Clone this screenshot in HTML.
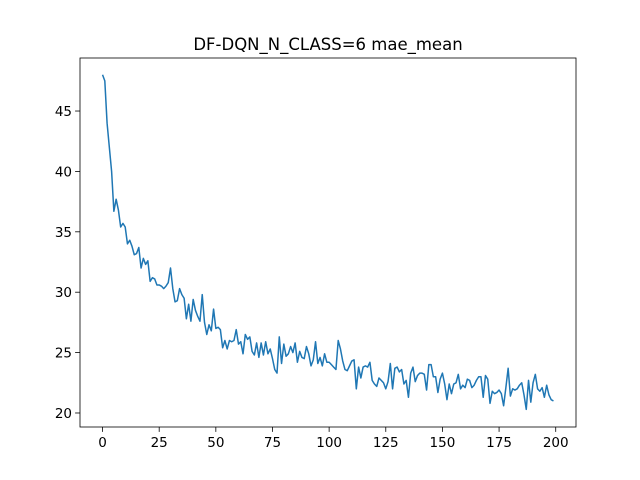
<!DOCTYPE html>
<html><head><meta charset="utf-8"><style>
body{margin:0;background:#fff}
svg{display:block;font-family:"DejaVu Sans","Liberation Sans",sans-serif}
</style></head><body>
<svg id="chart" width="640" height="480" viewBox="0 0 640 480">
<rect width="640" height="480" fill="#fff"/>
<text x="328" y="50" text-anchor="middle" font-size="16.5">DF-DQN_N_CLASS=6 mae_mean</text>
<g id="ticks"></g>
<path id="series" fill="none" stroke="#1f77b4" stroke-width="1.5" stroke-linejoin="round"/>
<rect x="80" y="58" width="496" height="369" fill="none" stroke="#000" stroke-width="0.8"/>
</svg>
<script>
const values=[48,47.5,44,42,40,36.7,37.7,36.8,35.4,35.7,35.4,34,34.3,33.8,33.1,33.2,33.7,32,32.8,32.3,32.6,30.9,31.2,31.1,30.6,30.6,30.5,30.3,30.5,30.8,32,30.3,29.2,29.3,30.3,29.8,29.5,27.8,29,27.6,29.4,28.5,28,27.6,29.8,27.5,26.5,27.3,26.8,28.6,27,27.1,26.9,25.4,26,25.3,26,25.9,26,26.9,25.7,25.9,24.9,26.5,26.1,26.3,25.1,24.8,25.8,24.6,25.8,24.8,25.9,24.9,25.3,24.5,23.6,23.3,26.3,24.1,25.7,24.7,24.9,25.5,25,25.8,24.2,25.1,24.6,24.5,25.5,24.9,23.9,24.4,25.9,24.1,24.6,23.9,24.9,24.2,24.2,24,23.8,23.6,26,25.3,24.3,23.6,23.5,23.9,24.3,24.4,22,23.8,22.9,23.8,23.9,23.8,24.2,22.7,22.4,22.2,22.9,22.7,22.5,22,22.6,24.1,22,23.7,23.8,23.4,23.6,22.4,22.7,21.3,23.3,23.8,22.6,23.1,23.3,23.3,23.2,21.9,24,24,23,23,21.7,22.8,23.3,22.4,21.1,22.4,21.6,22.4,22.5,23.2,22,22.3,22.1,22.8,22.7,22.1,22.3,22.7,23,23,21.3,23.1,22.8,20.8,21.8,21.6,21.7,21.9,21.6,20.6,22.1,23.7,21.4,22,21.9,22,22.3,22.5,21.5,20.3,22.7,20.9,22.5,23.2,22,21.8,22.1,21.3,22.3,21.5,21.1,21.0];
const xTicks=[0,25,50,75,100,125,150,175,200];
const yTicks=[20,25,30,35,40,45];
const L=80,R=576,T=58,B=427;
const xmin=-9.95,xmax=208.95,ymin=18.84,ymax=49.39;
const xs=v=>L+(v-xmin)/(xmax-xmin)*(R-L);
const ys=v=>B-(v-ymin)/(ymax-ymin)*(B-T);
const NS="http://www.w3.org/2000/svg";
const g=document.getElementById('ticks');
function mk(tag,attrs){const e=document.createElementNS(NS,tag);for(const k in attrs)e.setAttribute(k,attrs[k]);return e;}
xTicks.forEach(t=>{
  const x=xs(t);
  const l=mk('line',{x1:x,x2:x,y1:B,y2:B+4.9,stroke:'#000','stroke-width':0.8});
  
  
  g.appendChild(l);
  const tx=mk('text',{x:x,y:B+20,'text-anchor':'middle','font-size':13.5});
  
  
  tx.textContent=t;g.appendChild(tx);
});
yTicks.forEach(t=>{
  const y=ys(t);
  const l=mk('line',{x1:L-4.9,x2:L,y1:y,y2:y,stroke:'#000','stroke-width':0.8});
  
  
  g.appendChild(l);
  const tx=mk('text',{x:L-8,y:y+5,'text-anchor':'end','font-size':13.5});
  
  
  tx.textContent=t;g.appendChild(tx);
});
document.getElementById('series').setAttribute('d',values.map((v,i)=>(i?'L':'M')+xs(i).toFixed(2)+' '+ys(v).toFixed(2)).join(' '));
</script>
</body></html>
